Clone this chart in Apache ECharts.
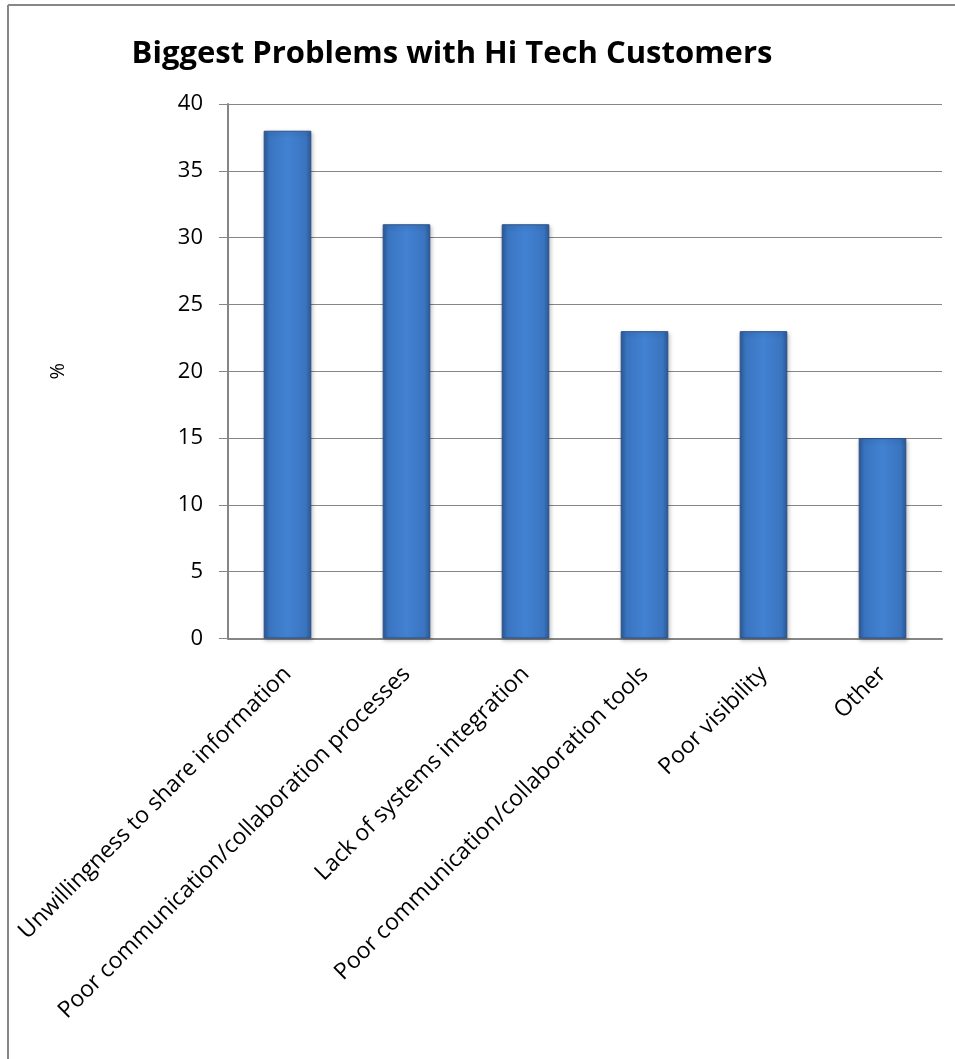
<!DOCTYPE html>
<html>
<head>
<meta charset="utf-8">
<script src="https://cdn.jsdelivr.net/npm/echarts@6/dist/echarts.min.js"></script>
<style>
html,body{margin:0;padding:0;background:#fff;}
#c{width:955px;height:1059px;}
</style>
</head>
<body>
<div id="c"></div>
<script>
const titleText = 'Biggest Problems with Hi Tech Customers';
const categories = [
  'Unwillingness to share information',
  'Poor communication/collaboration processes',
  'Lack of systems integration',
  'Poor communication/collaboration tools',
  'Poor visibility',
  'Other'
];
const values = [38, 31, 31, 23, 23, 15];
const yTicks = { min: 0, max: 40, interval: 5 };
const yName = '%';

const FONT = '"Open Sans", Lato, sans-serif';
const chart = echarts.init(document.getElementById('c'), null, {renderer: 'canvas'});
chart.setOption({
  backgroundColor: '#ffffff',
  animation: false,
  title: {
    text: titleText,
    left: 447, top: 34, textAlign: 'center',
    textStyle: {fontFamily: FONT, fontWeight: 'bold', fontSize: 31, color: '#000'}
  },
  graphic: [
    {type: 'line', shape: {x1: 8, y1: 5, x2: 8, y2: 1059}, style: {stroke: '#878787', lineWidth: 2}},
    {type: 'line', shape: {x1: 8, y1: 5, x2: 955, y2: 5}, style: {stroke: '#878787', lineWidth: 2}}
  ],
  grid: {left: 228, right: 13, top: 104, bottom: 420.5, containLabel: false},
  xAxis: {
    type: 'category',
    data: categories,
    axisLine: {show: true, lineStyle: {color: '#868686', width: 2}},
    axisTick: {show: false},
    axisLabel: {rotate: 45, margin: 32, interval: 0, fontFamily: FONT, fontSize: 23, color: '#000'}
  },
  yAxis: {
    type: 'value',
    min: yTicks.min, max: yTicks.max, interval: yTicks.interval,
    name: yName, nameLocation: 'middle', nameRotate: 90, nameGap: 160,
    nameTextStyle: {fontFamily: FONT, fontSize: 20, color: '#000'},
    axisLine: {show: true, lineStyle: {color: '#868686', width: 2}},
    axisTick: {show: true, length: 9, lineStyle: {color: '#868686'}},
    splitLine: {show: true, lineStyle: {color: '#868686', width: 1}},
    axisLabel: {margin: 25, fontFamily: FONT, fontSize: 22, color: '#000'}
  },
  series: [{
    type: 'bar',
    data: values,
    barWidth: '40%',
    itemStyle: {
      color: new echarts.graphic.LinearGradient(0, 0, 1, 0, [
        {offset: 0, color: '#2c5a98'},
        {offset: 0.12, color: '#3a74c0'},
        {offset: 0.5, color: '#4282d2'},
        {offset: 0.88, color: '#3a74c0'},
        {offset: 1, color: '#2c5a98'}
      ]),
      borderColor: '#2b5187',
      borderWidth: 1,
      shadowColor: 'rgba(0,0,0,0.25)',
      shadowBlur: 4,
      shadowOffsetX: 1,
      shadowOffsetY: 2
    }
  }]
});
</script>
</body>
</html>
